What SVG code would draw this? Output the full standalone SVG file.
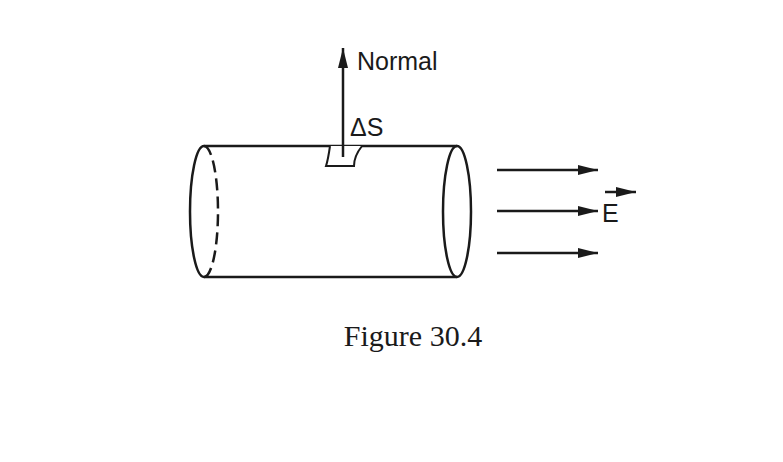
<svg xmlns="http://www.w3.org/2000/svg" width="783" height="462" viewBox="0 0 783 462">
<style>
.l{stroke:#1a1a1a;fill:none;stroke-width:2.5}
.t{font-family:"Liberation Sans",Arial,sans-serif;fill:#1a1a1a}
</style>
<defs><marker id="a" markerWidth="10" markerHeight="8" refX="10" refY="4" orient="auto" markerUnits="userSpaceOnUse" viewBox="0 0 10 8"><path d="M0,0L10,4L0,8z" fill="#1a1a1a"/></marker>
<marker id="b" markerWidth="20" markerHeight="10" refX="20" refY="5" orient="auto" markerUnits="userSpaceOnUse" viewBox="0 0 20 10"><path d="M0,0L20,5L0,10z" fill="#1a1a1a"/></marker></defs>
<rect width="783" height="462" fill="#fff"/>
<g id="cylinder">
<path class="l" d="M204,146H457M204,277H457"/>
<ellipse class="l" cx="457" cy="211.5" rx="14" ry="65.5" stroke-width="3"/>
<path class="l" d="M204,277A14,65.5 0 0 1 204,146" stroke-width="3"/>
<path class="l" d="M204,146A14,65.5 0 0 1 204,277" stroke-dasharray="12,6"/>
</g>
<g id="patch">
<path d="M330,146Q328,160 326,166H354Q354,156 362,146" fill="#fff" stroke="#1a1a1a" stroke-width="2"/>
</g>
<g id="connectors">
<line class="l" x1="343" y1="157" x2="343" y2="48" marker-end="url(#b)" stroke-width="2"/>
<line class="l" x1="497" y1="170" x2="598" y2="170" marker-end="url(#b)" stroke-width="2"/>
<line class="l" x1="497" y1="211" x2="598" y2="211" marker-end="url(#b)" stroke-width="2"/>
<line class="l" x1="497" y1="253" x2="598" y2="253" marker-end="url(#b)" stroke-width="2"/>
<line class="l" x1="605" y1="192" x2="636" y2="192" marker-end="url(#b)" stroke-width="2"/>
</g>
<g id="labels">
<text class="t" x="357" y="70" font-size="25">Normal</text>
<text class="t" x="350" y="136" font-size="25">ΔS</text>
<text class="t" x="602" y="222" font-size="25">E</text>
<text x="413" y="346" font-size="30" text-anchor="middle" font-family="'Liberation Serif','Times New Roman',serif" fill="#1a1a1a">Figure 30.4</text>
</g>
</svg>
